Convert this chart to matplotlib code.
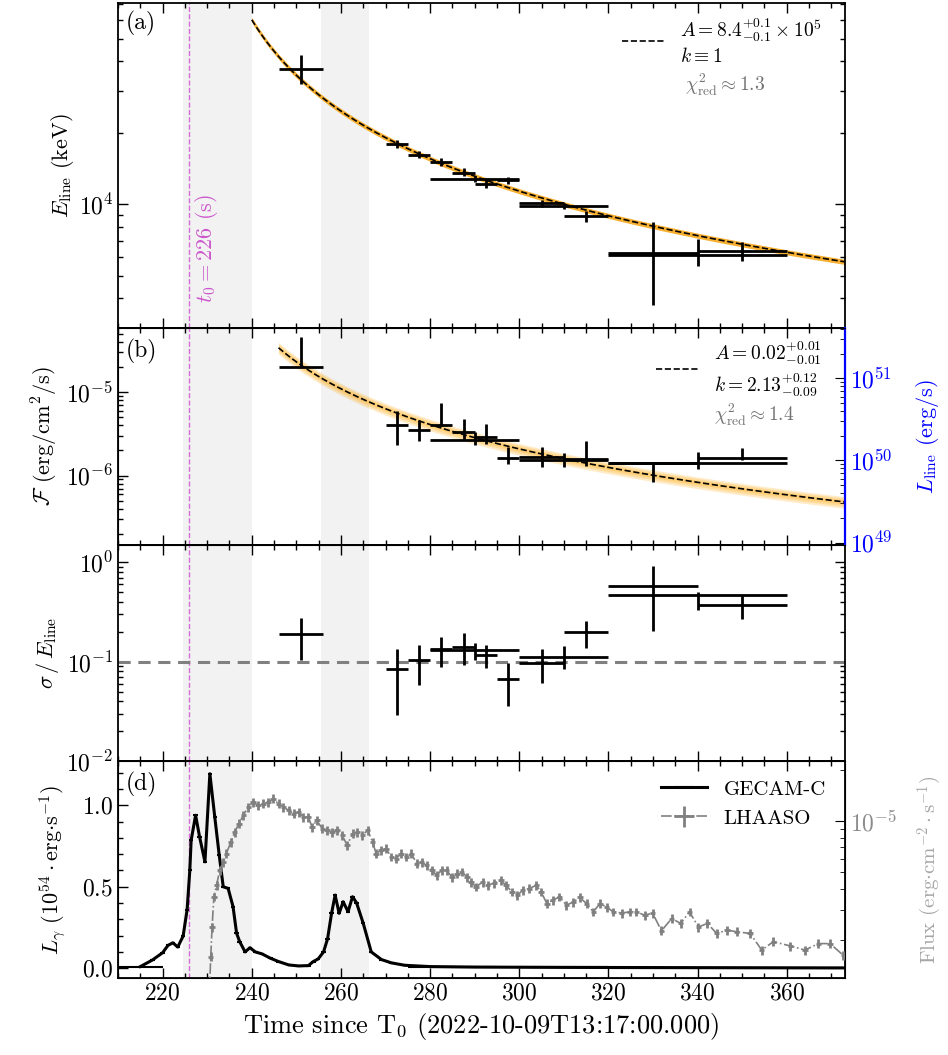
import numpy as np
import matplotlib
matplotlib.use("Agg")
import matplotlib.pyplot as plt
from matplotlib.ticker import NullFormatter, MultipleLocator

plt.rcParams['font.family'] = 'serif'
plt.rcParams['font.serif'] = ['cmr10', 'DejaVu Serif']
plt.rcParams['mathtext.fontset'] = 'cm'
plt.rcParams['axes.formatter.use_mathtext'] = True
plt.rcParams['axes.unicode_minus'] = False

# ---- time bins shared by panels (a)-(c)
t_bin = [251, 272.5, 277.5, 282.5, 287.5, 290, 292.5, 297.5, 305, 310, 315, 330, 340, 350]
t_half = [5, 2.5, 2.5, 2.5, 2.5, 10, 2.5, 2.5, 5, 10, 5, 10, 20, 10]

# (a) line energy (keV)
e_val = [37200, 17900, 16200, 15000, 13600, 12800, 12200, 12600, 10070, 9800, 8900, 6240, 6090, 6350]
e_lo = [32100, 17200, 15600, 14500, 13100, 12400, 11700, 12200, 9690, 9500, 8420, 3750, 5470, 5760]
e_hi = [42600, 18600, 16800, 15600, 14200, 13200, 12800, 13000, 10460, 10100, 9370, 8420, 7160, 6930]

# (b) line flux (1e-6 erg/cm2/s)
f_val = [20.0, 4.06, 3.47, 3.98, 3.37, 2.68, 2.88, 1.61, 1.69, 1.54, 1.58, 1.41, 1.40, 1.63]
f_lo = [19.7, 2.30, 2.63, 3.95, 2.76, 2.30, 2.36, 1.36, 1.28, 1.28, 1.32, 0.83, 1.20, 1.52]
f_hi = [45.0, 6.00, 4.57, 7.40, 4.80, 3.30, 4.17, 2.23, 2.23, 1.86, 2.58, 1.42, 1.90, 2.16]

# (c) sigma / E_line
s_val = [0.192, 0.084, 0.105, 0.133, 0.141, 0.130, 0.116, 0.0675, 0.098, 0.113, 0.198, 0.574, 0.464, 0.37]
s_lo = [0.105, 0.0289, 0.059, 0.089, 0.092, 0.105, 0.087, 0.0364, 0.0606, 0.085, 0.138, 0.203, 0.33, 0.27]
s_hi = [0.277, 0.136, 0.147, 0.178, 0.195, 0.155, 0.146, 0.098, 0.135, 0.143, 0.256, 0.927, 0.50, 0.464]

# fit parameters (E = A (t - t0)^-k)
t0 = 226
fit_a_A, fit_a_k = 8.4e5, 1.0
fit_b_A, fit_b_k = 0.02, 2.13

# (d) GECAM-C light curve (1e54 erg/s)
gecam_t = [215, 217.7, 220, 221.2, 222.3, 223.4, 224.6, 225.5, 226.1, 226.4, 227.4, 228.3, 229.5,
           230.6, 231.7, 232.7, 233.6, 234.7, 235.8, 236.6, 237.3, 238.5, 239.6, 240.8, 242.3,
           244.2, 246.0, 248.3, 250.5, 252.7, 253.8, 254.9, 256.1, 257.0, 257.9, 258.7, 259.6,
           260.5, 261.6, 262.6, 263.5, 265.0, 266.8, 269.1, 271.3, 274.3, 280, 290, 310, 330, 350, 370, 390]
gecam_L = [0.01, 0.05, 0.095, 0.14, 0.156, 0.13, 0.197, 0.36, 0.60, 0.785, 0.939, 0.806, 0.653,
           1.194, 0.929, 0.694, 0.50, 0.49, 0.378, 0.214, 0.163, 0.10, 0.126, 0.10, 0.088,
           0.061, 0.041, 0.02, 0.014, 0.016, 0.041, 0.057, 0.10, 0.18, 0.337, 0.449, 0.337,
           0.408, 0.347, 0.439, 0.402, 0.276, 0.10, 0.053, 0.033, 0.018, 0.01, 0.007, 0.005, 0.004, 0.003, 0.002, 0.002]
gecam_terr = [5] + [0.5] * 45 + [5, 5, 10, 10, 10, 10, 10]

# (d) LHAASO flux (1e-6 erg/cm2/s)
lhaaso_t = [230.5, 230.8, 231.1, 231.5, 232.1, 232.8, 233.6, 234.3, 235.3, 236.2, 237.1, 238.1, 239.2,
            240.3, 241.4, 242.6, 243.7, 244.8, 246.0, 247.1, 248.3, 249.4, 250.5, 251.6, 252.7,
            253.5, 254.6, 255.8, 256.9, 258.0, 259.1, 260.3, 261.4, 262.6, 263.7, 264.8, 266.0,
            267.1, 267.9, 269.0, 270.1, 271.3, 272.4, 273.5, 274.7, 275.8, 277.0, 278.1, 279.2,
            280.4, 281.5, 282.6, 283.7, 284.9, 286.0, 287.1, 288.3, 289.2, 290.3, 291.8, 292.9,
            294.4, 295.9, 297.0, 298.4, 299.6, 300.8, 302.3, 303.8, 304.9, 306.2, 307.5, 309.0,
            310.6, 312.1, 313.6, 315.1, 316.6, 318.1, 319.6, 321.1, 323.0, 324.8, 326.3, 328.2,
            329.9, 331.9, 334.2, 336.2, 338.2, 340.2, 342.2, 344.3, 346.6, 348.8, 351.8, 354.4,
            357.0, 360.8, 364.1, 367.1, 369.7, 372.7]
lhaaso_F = [1.0, 1.60, 2.39, 3.59, 4.20, 5.14, 5.75, 6.44, 7.54, 8.62, 9.65, 10.80, 12.08,
            12.93, 12.36, 12.64, 12.93, 13.52, 12.64, 12.08, 11.55, 11.05, 11.29, 10.56, 10.56,
            9.23, 10.09, 9.02, 8.82, 8.62, 8.82, 8.25, 7.20, 8.43, 8.62, 8.25, 8.82,
            7.54, 6.44, 6.74, 6.89, 6.16, 6.02, 6.44, 6.16, 6.44, 5.63, 5.75, 5.50,
            5.14, 4.81, 5.14, 5.14, 4.70, 4.92, 5.03, 4.70, 4.39, 4.11, 4.39, 4.20,
            4.33, 4.49, 4.20, 3.84, 3.67, 3.93, 4.02, 4.20, 3.84, 3.28, 3.43, 3.59,
            3.21, 3.35, 3.56, 3.28, 2.93, 3.28, 3.13, 2.93, 2.89, 2.93, 2.93, 2.80,
            2.89, 2.27, 2.68, 2.51, 2.93, 2.39, 2.51, 2.19, 2.29, 2.24, 2.19, 1.75,
            1.96, 1.85, 1.75, 1.91, 1.91, 1.63]

shade_spans = [(224.5, 240.0), (255.5, 266.2)]

fig = plt.figure(figsize=(9.48, 10.55), dpi=100)
gs = fig.add_gridspec(4, 1, height_ratios=[1.5, 1, 1, 1], hspace=0,
                      left=0.1245, right=0.891, top=0.997, bottom=0.073)
ax_a = fig.add_subplot(gs[0])
ax_b = fig.add_subplot(gs[1], sharex=ax_a)
ax_c = fig.add_subplot(gs[2], sharex=ax_a)
ax_d = fig.add_subplot(gs[3], sharex=ax_a)

t_arr = np.array(t_bin)
err_kw = dict(fmt='none', ecolor='k', elinewidth=2.0, capsize=0, zorder=5)
mag = '#cc55cc'
TS = 17   # tick label size
LS = 16   # axis label size

for ax in (ax_a, ax_b, ax_c, ax_d):
    for s0, s1 in shade_spans:
        ax.axvspan(s0, s1, color='0.5', alpha=0.1, lw=0, zorder=0)
    ax.axvline(t0, color='m', ls='--', lw=1.0, alpha=0.55, zorder=1)
    ax.tick_params(which='both', direction='in', top=True, right=True, labelsize=TS)
    ax.tick_params(which='major', length=7, width=1)
    ax.tick_params(which='minor', length=3.5, width=1)
    for sp in ax.spines.values():
        sp.set_linewidth(1.3)

# ---- (a)
tt = np.linspace(240, 373, 300)
Ea = fit_a_A * (tt - t0) ** (-fit_a_k)
ax_a.fill_between(tt, Ea * 0.975, Ea * 1.025, color='#f7a81b', lw=0, alpha=0.9, zorder=2)
ax_a.plot(tt, Ea, 'k--', lw=1.2, zorder=3,
          label=r'$A = 8.4^{+0.1}_{-0.1}\times 10^5$' + '\n' + r'$k \equiv 1$')
ev = np.array(e_val)
ax_a.errorbar(t_arr, ev, xerr=t_half, yerr=[ev - np.array(e_lo), np.array(e_hi) - ev], **err_kw)
ax_a.set_yscale('log')
ax_a.set_ylim(3000, 70500)
ax_a.yaxis.set_minor_formatter(NullFormatter())
ax_a.set_ylabel(r'$E_{\rm line}$ (keV)', fontsize=LS, labelpad=2)
ax_a.text(0.01, 0.975, '(a)', transform=ax_a.transAxes, fontsize=17, va='top')
ax_a.text(229.8, 3820, r'$t_0 = 226$ (s)', rotation=90, color=mag, fontsize=16,
          ha='center', va='bottom')
ax_a.legend(loc='upper right', bbox_to_anchor=(0.985, 0.995), frameon=False, fontsize=14,
            handlelength=2.2, borderaxespad=0.2)
ax_a.text(0.78, 0.75, r'$\chi^2_{\rm red} \approx 1.3$', transform=ax_a.transAxes,
          color='0.45', fontsize=14, va='center')

# ---- (b)
tb = np.linspace(246, 373, 300)
Fb = fit_b_A * (tb - t0) ** (-fit_b_k)
for w in (0.16, 0.11, 0.06):
    ax_b.fill_between(tb, Fb * (1 - w), Fb * (1 + w), color='#ffa500', lw=0, alpha=0.22, zorder=2)
ax_b.plot(tb, Fb, 'k--', lw=1.2, zorder=3,
          label=r'$A = 0.02^{+0.01}_{-0.01}$' + '\n' + r'$k = 2.13^{+0.12}_{-0.09}$')
fv = np.array(f_val) * 1e-6
ax_b.errorbar(t_arr, fv, xerr=t_half,
              yerr=[fv - np.array(f_lo) * 1e-6, np.array(f_hi) * 1e-6 - fv], **err_kw)
ax_b.set_yscale('log')
ax_b.set_ylim(1.49e-7, 5.82e-5)
ax_b.yaxis.set_minor_formatter(NullFormatter())
ax_b.tick_params(which='both', right=False)
ax_b.set_ylabel(r'$\mathcal{F}$ (erg/cm$^2$/s)', fontsize=LS)
ax_b.text(0.01, 0.95, '(b)', transform=ax_b.transAxes, fontsize=17, va='top')
ax_b.legend(loc='upper right', bbox_to_anchor=(0.985, 1.0), frameon=False, fontsize=14,
            handlelength=2.2, borderaxespad=0.2)
ax_b.text(0.82, 0.60, r'$\chi^2_{\rm red} \approx 1.4$', transform=ax_b.transAxes,
          color='0.45', fontsize=14, va='center')
ax_b2 = ax_b.twinx()
ax_b2.set_yscale('log')
ax_b2.set_ylim(9.4e48, 4.1e51)
ax_b2.yaxis.set_minor_formatter(NullFormatter())
ax_b2.tick_params(which='both', direction='in', labelcolor='blue', labelsize=TS)
ax_b2.tick_params(which='major', length=7)
ax_b2.tick_params(which='minor', length=3.5)
ax_b2.spines['right'].set_color('blue')
ax_b2.spines['right'].set_linewidth(1.6)
ax_b2.set_ylabel(r'$L_{\rm line}$ (erg/s)', color='blue', fontsize=LS, labelpad=16)

# ---- (c)
sv = np.array(s_val)
ax_c.axhline(0.1, color='0.5', ls=(0, (4, 2.5)), lw=2.2, zorder=2)
ax_c.errorbar(t_arr, sv, xerr=t_half, yerr=[sv - np.array(s_lo), np.array(s_hi) - sv], **err_kw)
ax_c.set_yscale('log')
ax_c.set_ylim(1e-2, 1.5)
ax_c.yaxis.set_minor_formatter(NullFormatter())
ax_c.set_ylabel(r'$\sigma\,/\,E_{\rm line}$', fontsize=LS)

# ---- (d)
ax_d.errorbar(gecam_t, gecam_L, xerr=gecam_terr, color='k', lw=2.2, elinewidth=1.5,
              capsize=0, zorder=4, label='GECAM-C')
ax_d.set_ylim(-0.06, 1.27)
ax_d.yaxis.set_major_locator(MultipleLocator(0.5))
ax_d.yaxis.set_minor_locator(MultipleLocator(0.1))
ax_d.tick_params(which='both', right=False)
ax_d.set_ylabel(r'$L_\gamma$ ($10^{54}\cdot$erg$\cdot$s$^{-1}$)', fontsize=LS, labelpad=10)
ax_d.text(0.01, 0.95, '(d)', transform=ax_d.transAxes, fontsize=17, va='top')
ax_d.set_xlim(210, 373)
ax_d.xaxis.set_major_locator(MultipleLocator(20))
ax_d.xaxis.set_minor_locator(MultipleLocator(5))
ax_d.set_xlabel(r'Time since T$_0$ (2022-10-09T13:17:00.000)', fontsize=19)

ax_d2 = ax_d.twinx()
lf = np.array(lhaaso_F) * 1e-6
ax_d2.errorbar(lhaaso_t, lf, xerr=0.6, yerr=lf * 0.06, color='gray', ls='-.', lw=1.2,
               elinewidth=2.0, capsize=0, zorder=3, label='LHAASO')
ax_d2.set_yscale('log')
ax_d2.set_ylim(1.2e-6, 2.24e-5)
ax_d2.yaxis.set_minor_formatter(NullFormatter())
ax_d2.tick_params(which='both', direction='in', labelcolor='0.55', labelsize=TS)
ax_d2.tick_params(which='major', length=7)
ax_d2.tick_params(which='minor', length=3.5)
ax_d2.set_ylabel(r'Flux (erg$\cdot$cm$^{-2}\cdot$s$^{-1}$)', color='0.65', fontsize=15, labelpad=14)

h1, l1 = ax_d.get_legend_handles_labels()
h2, l2 = ax_d2.get_legend_handles_labels()
ax_d2.legend(h1 + h2, l1 + l2, loc='upper right', frameon=False, fontsize=15, handlelength=2.2)

for ax in (ax_a, ax_b, ax_c):
    plt.setp(ax.get_xticklabels(), visible=False)

plt.savefig('out.png', dpi=100)
plt.close()
